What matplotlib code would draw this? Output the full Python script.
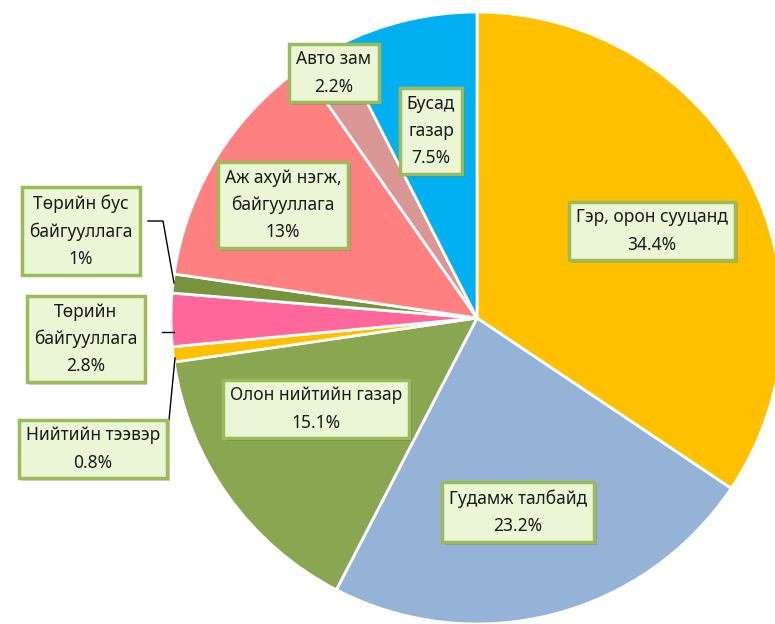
import matplotlib.pyplot as plt
from matplotlib import patheffects

plt.rcParams['font.family'] = ['Noto Sans', 'DejaVu Sans']

# Өгөгдөл
categories = ['Гэр, орон сууцанд', 'Гудамж талбайд', 'Олон нийтийн газар',
              'Нийтийн тээвэр', 'Төрийн\nбайгууллага', 'Төрийн бус\nбайгууллага',
              'Аж ахуй нэгж,\nбайгууллага', 'Авто зам', 'Бусад\nгазар']
values = [34.4, 23.2, 15.1, 0.8, 2.8, 1.0, 13.0, 2.2, 7.5]
pct_labels = ['34.4%', '23.2%', '15.1%', '0.8%', '2.8%', '1%', '13%', '2.2%', '7.5%']
colors = ['#FFC000', '#95B3D7', '#8BA650', '#FFC000', '#FF6699', '#77933C',
          '#FF8080', '#D99694', '#00B0F0']

# label box centers (pixel coords, y from top)
label_pos = [(652, 231), (518, 512), (316, 409), (93, 449), (86, 339),
             (81, 231), (283, 205), (334, 73), (431, 131)]

W, H = 775, 624
fig = plt.figure(figsize=(W / 100, H / 100), dpi=100)
ax = fig.add_axes([0, 0, 1, 1])

cx, cy, r = 477, H - 318, 306
ax.pie(values, colors=colors, startangle=90, counterclock=False,
       center=(cx, cy), radius=r, frame=True,
       wedgeprops=dict(edgecolor='white', linewidth=2))

# leader lines for small slices
ax.plot([148, 163, 174], [H - 221, H - 221, H - 283], color='black', lw=1)
ax.plot([162, 174], [H - 332, H - 332], color='black', lw=1)
ax.plot([169, 175], [H - 420, H - 358], color='black', lw=1)

for cat, pct, (x, y) in zip(categories, pct_labels, label_pos):
    t = ax.text(x, H - y, cat + '\n' + pct, ha='center', va='center',
                fontsize=12.5, color='#1a1a1a', linespacing=1.65,
                bbox=dict(boxstyle='square,pad=0.4', facecolor='#EBF6D6',
                          edgecolor='#9BBB59', linewidth=2.5))
    t.get_bbox_patch().set_path_effects(
        [patheffects.SimplePatchShadow(offset=(2, -2), alpha=0.25), patheffects.Normal()])

ax.set_xlim(0, W)
ax.set_ylim(0, H)
ax.set_aspect('equal')
ax.axis('off')

plt.savefig('out.png', dpi=100)
plt.close()
